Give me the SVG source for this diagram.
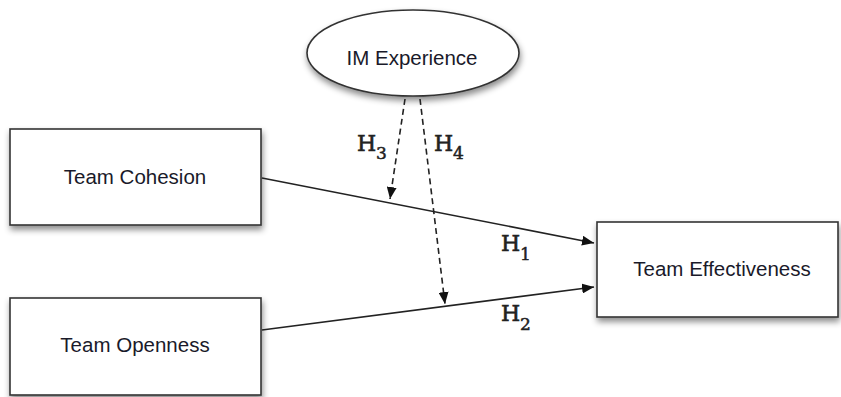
<svg xmlns="http://www.w3.org/2000/svg" width="841" height="397" viewBox="0 0 841 397">
<defs>
<filter id="sh" x="-10%" y="-10%" width="125%" height="135%">
<feDropShadow dx="1" dy="4" stdDeviation="3" flood-color="#000" flood-opacity="0.45"/>
</filter>
<marker id="ah" viewBox="0 0 12 10" refX="12" refY="5" markerWidth="12" markerHeight="10" markerUnits="userSpaceOnUse" orient="auto">
<path d="M0,0 L12,5 L0,10 Z" fill="#111"/>
</marker>
<style>
.box{fill:#fff;stroke:#333;stroke-width:1.6}
.lbl{font-family:"Liberation Sans",Arial,sans-serif;font-size:20.5px;fill:#1a1a2a;text-anchor:middle}
.h{font-family:"DejaVu Serif","Liberation Serif",serif;font-size:22px;fill:#222;stroke:#222;stroke-width:0.6}
.hs{font-family:"DejaVu Serif","Liberation Serif",serif;font-size:17px;fill:#222;stroke:#222;stroke-width:0.5}
.ln{stroke:#222;stroke-width:1.6;fill:none}
.dash{stroke:#222;stroke-width:1.6;fill:none;stroke-dasharray:6,4}
</style>
</defs>
<g id="im-experience">
<ellipse cx="413" cy="53" rx="106" ry="43" class="box" filter="url(#sh)"/>
<text x="412" y="65" class="lbl">IM Experience</text>
</g>
<g id="team-cohesion">
<rect x="10" y="129" width="251" height="96" class="box" filter="url(#sh)"/>
<text x="135" y="184" class="lbl">Team Cohesion</text>
</g>
<g id="team-openness">
<rect x="10" y="298" width="251" height="97" class="box" filter="url(#sh)"/>
<text x="135" y="352" class="lbl">Team Openness</text>
</g>
<g id="team-effectiveness">
<rect x="597" y="222" width="241" height="95" class="box" filter="url(#sh)"/>
<text x="722" y="276" class="lbl">Team Effectiveness</text>
</g>
<g id="connectors">
<line x1="262" y1="178" x2="594" y2="243" class="ln" marker-end="url(#ah)"/>
<line x1="262" y1="330" x2="594" y2="287" class="ln" marker-end="url(#ah)"/>
<line x1="405" y1="99" x2="390" y2="199" class="dash" marker-end="url(#ah)"/>
<line x1="420" y1="99" x2="445" y2="304" class="dash" marker-end="url(#ah)"/>
</g>
<g id="labels">
<text x="357" y="151" class="h">H</text><text x="376" y="159" class="hs">3</text>
<text x="434" y="151" class="h">H</text><text x="453" y="159" class="hs">4</text>
<text x="501" y="251" class="h">H</text><text x="520" y="260" class="hs">1</text>
<text x="501" y="321" class="h">H</text><text x="520" y="330" class="hs">2</text>
</g>
</svg>
